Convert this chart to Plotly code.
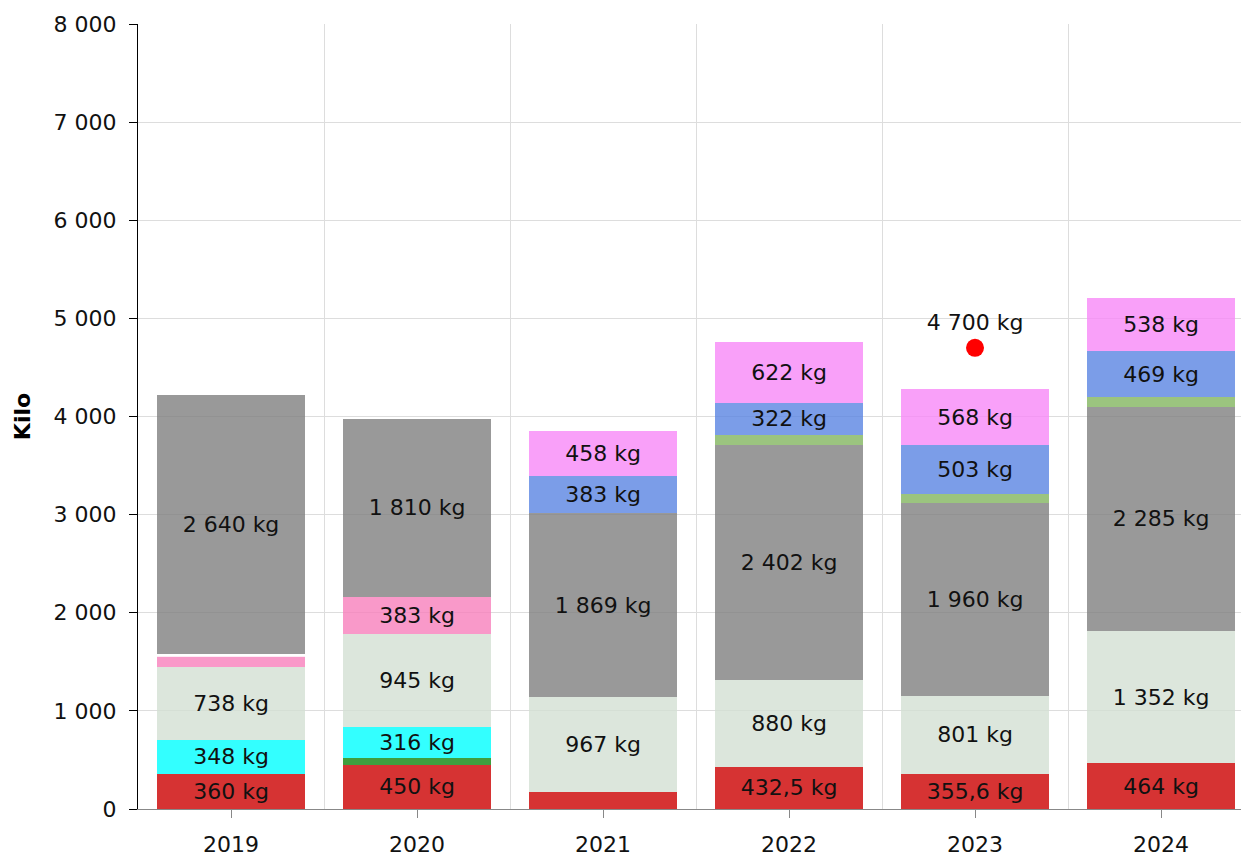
import plotly.graph_objects as go

# Years on the x axis
years = [2019, 2020, 2021, 2022, 2023, 2024]

# Stacked series, bottom to top (kg)
red = [360, 450, 176, 432.5, 355.6, 464]
dark_green = [0, 70, 0, 0, 0, 0]
cyan = [348, 316, 0, 0, 0, 0]
pale = [738, 945, 967, 880, 801, 1352]
pink = [110, 383, 0, 0, 0, 0]
white = [20, 0, 0, 0, 0, 0]
grey = [2640, 1810, 1869, 2402, 1960, 2285]
green = [0, 0, 0, 100, 90, 95]
blue = [0, 0, 383, 322, 503, 469]
magenta = [0, 0, 458, 622, 568, 538]

# Single target point
target_year = [2023]
target_value = [4700]


def fmt(v):
    if v == int(v):
        return f"{int(v):,}".replace(",", " ")
    return f"{v:,.1f}".replace(",", " ").replace(".", ",")


def labels(vals):
    # small segments carry no label in the original
    return [fmt(v) + " kg" if v >= 300 else "" for v in vals]


series = [
    ("Röd", red, "#cc0000"),
    ("Mörkgrön", dark_green, "#0f870f"),
    ("Cyan", cyan, "#00ffff"),
    ("Ljus", pale, "#d3e0d3"),
    ("Rosa", pink, "#f880bb"),
    ("Vit", white, "#ffffff"),
    ("Grå", grey, "#808080"),
    ("Grön", green, "#82b55f"),
    ("Blå", blue, "#5a84e2"),
    ("Magenta", magenta, "#f888f8"),
]

font = "DejaVu Sans, Verdana, sans-serif"
fsize = 22

fig = go.Figure()
for name, vals, color in series:
    fig.add_trace(go.Bar(
        x=years, y=vals, name=name,
        marker=dict(color=color, opacity=0.8, line=dict(width=0)),
        text=labels(vals),
        textposition="inside",
        insidetextanchor="middle",
        constraintext="none",
        textfont=dict(family=font, size=fsize, color="#111111"),
        cliponaxis=False,
    ))

fig.add_trace(go.Scatter(
    x=target_year, y=target_value, name="Mål",
    mode="markers+text",
    marker=dict(color="#ff0000", size=18),
    text=[fmt(v) + " kg" for v in target_value],
    textposition="top center",
    textfont=dict(family=font, size=fsize, color="#111111"),
))

fig.update_layout(
    width=1241, height=857,
    barmode="stack", bargap=0.2,
    showlegend=False,
    separators=", ",
    plot_bgcolor="white", paper_bgcolor="white",
    margin=dict(l=138, r=0, t=24, b=44),
    font=dict(family=font, size=fsize, color="#111111"),
)

fig.update_xaxes(
    range=[2018.5, 2024.43],
    tickvals=years, ticktext=[str(y) for y in years],
    showgrid=False, zeroline=False,
    showline=True, linecolor="#888888", linewidth=1,
    ticks="outside", ticklen=8, tickcolor="#888888",
    ticklabelstandoff=8,
    minor=dict(tickvals=[y + 0.5 for y in years], showgrid=True,
               gridcolor="#dddddd", gridwidth=1, ticks=""),
)

fig.update_yaxes(
    range=[0, 8000], dtick=1000, tickformat=",d",
    showgrid=True, gridcolor="#dddddd", gridwidth=1, zeroline=False,
    showline=True, linecolor="#000000", linewidth=1,
    ticks="outside", ticklen=8, tickcolor="#000000",
    ticklabelstandoff=8,
    title=dict(text="<b>Kilo</b>", standoff=16,
               font=dict(family=font, size=fsize, color="#000000")),
)

fig.write_html(
    "out.html",
    config={"displayModeBar": False},
    post_script="document.body.style.margin='0';document.body.style.overflow='hidden';",
)
